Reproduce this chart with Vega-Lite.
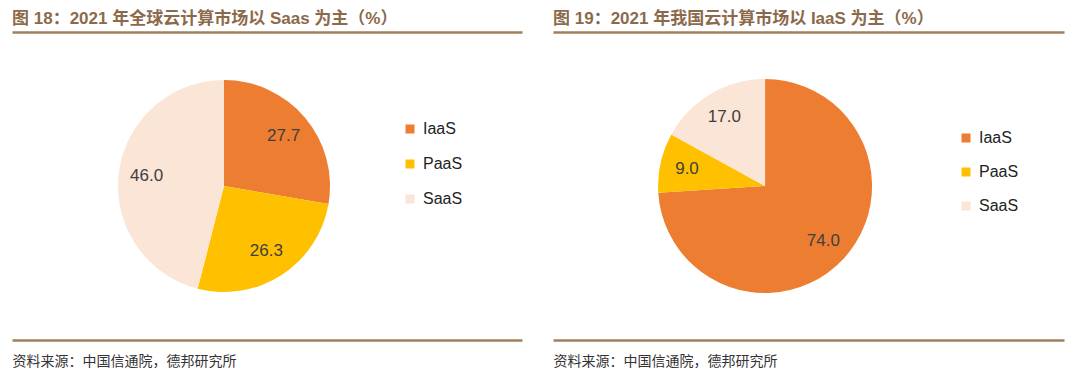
{
  "$schema": "https://vega.github.io/schema/vega-lite/v6.json",
  "background": "white",
  "padding": {"left": 12, "top": 10, "right": 16, "bottom": 0},
  "spacing": 31,
  "config": {"view": {"stroke": null}, "font": "Liberation Sans"},
  "resolve": {"scale": {"color": "independent", "theta": "independent"}, "legend": {"color": "independent"}},
  "hconcat": [
    {
      "width": 510,
      "height": 308,
      "title": {"text": "图 18：2021 年全球云计算市场以 Saas 为主（%）", "anchor": "start", "font": "Liberation Sans, Noto Sans CJK SC", "fontSize": 17, "fontWeight": "bold", "color": "#8B6A4B", "offset": 4},
      "data": {"values": [{"type": "IaaS", "value": 27.7}, {"type": "PaaS", "value": 26.3}, {"type": "SaaS", "value": 46.0}]},
      "layer": [
        {"mark": {"type": "rule", "opacity": 0}, "encoding": {"x": {"datum": 0, "type": "quantitative", "scale": {"domain": [0, 1]}, "axis": {"orient": "top", "labels": false, "ticks": false, "grid": false, "title": null, "domainColor": "#A0805F", "domainWidth": 2.5}}}},
        {"mark": {"type": "rule", "opacity": 0}, "encoding": {"x": {"datum": 0, "type": "quantitative", "scale": {"domain": [0, 1]}, "axis": {"orient": "bottom", "labels": false, "ticks": false, "grid": false, "domainColor": "#A0805F", "domainWidth": 2.5, "title": "资料来源：中国信通院，德邦研究所", "titleAnchor": "start", "titleAlign": "left", "titleBaseline": "top", "titlePadding": 14, "titleFont": "Noto Sans CJK SC", "titleFontSize": 14, "titleFontWeight": "normal", "titleColor": "#333333"}}}},
        {"mark": {"type": "arc", "outerRadius": 106}, "encoding": {
          "theta": {"field": "value", "type": "quantitative", "stack": true},
          "order": {"field": "type", "sort": "ascending"},
          "color": {"field": "type", "type": "nominal", "scale": {"domain": ["IaaS", "PaaS", "SaaS"], "range": ["#ED7D31", "#FFC000", "#FBE5D6"]}, "legend": {"orient": "none", "legendX": 390, "legendY": 89, "title": null, "symbolType": "square", "symbolSize": 81, "symbolStrokeWidth": 0, "labelFontSize": 16, "labelFont": "Liberation Sans", "labelColor": "#222222", "rowPadding": 19, "labelOffset": 5}},
          "x": {"datum": 0.4157, "type": "quantitative", "scale": {"domain": [0, 1]}, "axis": null}
        }},
        {"mark": {"type": "text", "radius": 78, "fontSize": 17, "color": "#404040", "font": "Liberation Sans"}, "encoding": {
          "theta": {"field": "value", "type": "quantitative", "stack": true},
          "order": {"field": "type", "sort": "ascending"},
          "text": {"field": "value", "type": "quantitative", "format": ".1f"},
          "x": {"datum": 0.4157, "type": "quantitative", "scale": {"domain": [0, 1]}, "axis": null}
        }}
      ],
      "resolve": {"scale": {"x": "independent"}, "axis": {"x": "independent"}}
    },
    {
      "width": 511,
      "height": 308,
      "title": {"text": "图 19：2021 年我国云计算市场以 IaaS 为主（%）", "anchor": "start", "font": "Liberation Sans, Noto Sans CJK SC", "fontSize": 17, "fontWeight": "bold", "color": "#8B6A4B", "offset": 4},
      "data": {"values": [{"type": "IaaS", "value": 74.0}, {"type": "PaaS", "value": 9.0}, {"type": "SaaS", "value": 17.0}]},
      "layer": [
        {"mark": {"type": "rule", "opacity": 0}, "encoding": {"x": {"datum": 0, "type": "quantitative", "scale": {"domain": [0, 1]}, "axis": {"orient": "top", "labels": false, "ticks": false, "grid": false, "title": null, "domainColor": "#A0805F", "domainWidth": 2.5}}}},
        {"mark": {"type": "rule", "opacity": 0}, "encoding": {"x": {"datum": 0, "type": "quantitative", "scale": {"domain": [0, 1]}, "axis": {"orient": "bottom", "labels": false, "ticks": false, "grid": false, "domainColor": "#A0805F", "domainWidth": 2.5, "title": "资料来源：中国信通院，德邦研究所", "titleAnchor": "start", "titleAlign": "left", "titleBaseline": "top", "titlePadding": 14, "titleFont": "Noto Sans CJK SC", "titleFontSize": 14, "titleFontWeight": "normal", "titleColor": "#333333"}}}},
        {"mark": {"type": "arc", "outerRadius": 107}, "encoding": {
          "theta": {"field": "value", "type": "quantitative", "stack": true},
          "order": {"field": "type", "sort": "ascending"},
          "color": {"field": "type", "type": "nominal", "scale": {"domain": ["IaaS", "PaaS", "SaaS"], "range": ["#ED7D31", "#FFC000", "#FBE5D6"]}, "legend": {"orient": "none", "legendX": 405, "legendY": 98, "title": null, "symbolType": "square", "symbolSize": 81, "symbolStrokeWidth": 0, "labelFontSize": 16, "labelFont": "Liberation Sans", "labelColor": "#222222", "rowPadding": 18, "labelOffset": 5}},
          "x": {"datum": 0.415, "type": "quantitative", "scale": {"domain": [0, 1]}, "axis": null}
        }},
        {"mark": {"type": "text", "radius": 80, "fontSize": 17, "color": "#404040", "font": "Liberation Sans"}, "encoding": {
          "theta": {"field": "value", "type": "quantitative", "stack": true},
          "order": {"field": "type", "sort": "ascending"},
          "text": {"field": "value", "type": "quantitative", "format": ".1f"},
          "x": {"datum": 0.415, "type": "quantitative", "scale": {"domain": [0, 1]}, "axis": null}
        }}
      ],
      "resolve": {"scale": {"x": "independent"}, "axis": {"x": "independent"}}
    }
  ]
}
